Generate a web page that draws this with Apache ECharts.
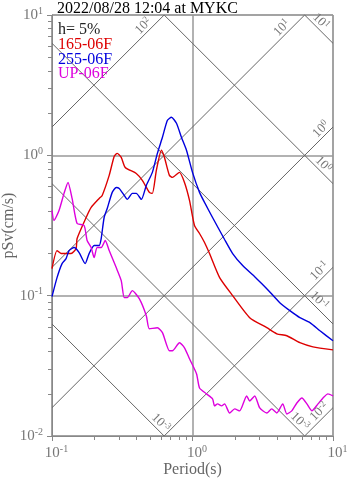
<!DOCTYPE html>
<html><head><meta charset="utf-8">
<script src="https://cdn.jsdelivr.net/npm/echarts@6/dist/echarts.min.js"></script>
<style>html,body{margin:0;padding:0;background:#fff}#c{width:347px;height:478px}</style>
</head><body><div id="c"></div>
<script>
const titleText = '2022/08/28 12:04 at MYKC';
const dampingText = 'h= 5%';
const seriesNames = ['165-06F', '255-06F', 'UP-06F'];
const seriesColors = ['#dd0000', '#0000dd', '#dd00dd'];

// [period (s), pSv (cm/s)]
const ns165 = [[0.1,0.156],[0.1086,0.2095],[0.116,0.1995],[0.1367,0.1995],[0.1484,0.2167],[0.1509,0.2553],[0.175,0.3606],[0.19,0.4254],[0.2167,0.4932],[0.2276,0.5179],[0.2553,0.7197],[0.2773,0.984],[0.2911,1.033],[0.311,0.968],[0.332,0.82],[0.398,0.743],[0.4394,0.6626],[0.493,0.5445],[0.5179,0.5357],[0.553,0.781],[0.601,1.086],[0.631,0.968],[0.685,0.7197],[0.7197,0.6966],[0.808,0.756],[0.877,0.641],[0.952,0.4775],[1.033,0.3162],[1.122,0.2773],[1.218,0.2393],[1.322,0.1995],[1.56,0.1345],[1.931,0.1],[2.553,0.0697],[3.378,0.0591],[3.98,0.0535],[4.69,0.0518],[5.81,0.0462],[7.197,0.0432],[10,0.0411]];
const ew255 = [[0.1,0.0984],[0.1086,0.1345],[0.1179,0.1693],[0.1259,0.1837],[0.1323,0.2095],[0.1436,0.2203],[0.156,0.2028],[0.1722,0.1693],[0.1837,0.1995],[0.1995,0.2277],[0.2167,0.2277],[0.2239,0.2553],[0.235,0.3606],[0.2472,0.4178],[0.2683,0.5445],[0.2864,0.5902],[0.301,0.5808],[0.3268,0.5179],[0.3436,0.4853],[0.3728,0.5357],[0.398,0.5357],[0.4325,0.4853],[0.469,0.6105],[0.5179,0.756],[0.5623,1.033],[0.611,1.345],[0.663,1.778],[0.708,1.866],[0.769,1.693],[0.834,1.345],[0.906,1.086],[1.0,0.756],[1.122,0.5445],[1.218,0.4617],[1.389,0.3606],[1.692,0.2512],[1.931,0.1995],[2.276,0.1638],[2.864,0.1322],[3.378,0.1122],[4.18,0.0891],[4.93,0.0782],[5.81,0.0697],[6.85,0.0642],[8.08,0.0562],[10,0.0477]];
const up = [[0.1,0.4046],[0.1033,0.3434],[0.1122,0.4046],[0.1218,0.5357],[0.13,0.641],[0.139,0.4932],[0.1509,0.3268],[0.1693,0.3162],[0.1778,0.2472],[0.19,0.2203],[0.1995,0.1866],[0.2094,0.2203],[0.2239,0.2203],[0.2393,0.2472],[0.2553,0.2095],[0.2864,0.1585],[0.311,0.128],[0.3268,0.0968],[0.3436,0.0968],[0.3728,0.1086],[0.418,0.0952],[0.469,0.072],[0.493,0.0581],[0.5623,0.0591],[0.611,0.0545],[0.685,0.0405],[0.7197,0.0405],[0.808,0.0462],[0.877,0.0425],[0.952,0.0355],[1.069,0.0277],[1.122,0.022],[1.259,0.01995],[1.389,0.01837],[1.436,0.01638],[1.509,0.01693],[1.61,0.01638],[1.692,0.01693],[1.837,0.01459],[1.995,0.0156],[2.167,0.0151],[2.43,0.0193],[2.553,0.01778],[2.773,0.0193],[3.01,0.01585],[3.378,0.01459],[3.66,0.0156],[3.98,0.01459],[4.39,0.01693],[4.69,0.01436],[5.09,0.0151],[5.53,0.0172],[6.01,0.01866],[6.52,0.01693],[7.08,0.0151],[7.82,0.01693],[8.49,0.01866],[9.2,0.01995],[10,0.0193]];

const xMin = 0.1, xMax = 10, yMin = 0.01, yMax = 10;
const minorTickValuesX = [0.2,0.3,0.4,0.5,0.6,0.7,0.8,0.9,2,3,4,5,6,7,8,9];
const minorTickValuesY = [0.02,0.03,0.04,0.05,0.06,0.07,0.08,0.09,0.2,0.3,0.4,0.5,0.6,0.7,0.8,0.9,2,3,4,5,6,7,8,9];

// tripartite guide lines
const accLevels = [100, 10, 1, 0.1, 0.01];         // pSa (cm/s^2)
const accLabels = ['2', '1', '0', '-1', '-2'];
const accLabelT = [0.484, 4.69, 8.9, 8.7, 8.65];
const dispLevels = [10, 1, 0.1, 0.01, 0.001];      // Sd (cm)
const dispLabels = ['1', '0', '-1', '-3', '-3'];
const dispLabelT = [7.56, 7.89, 7.36, 5.36, 0.548];

const FONT = 'Liberation Serif';
const TW = 2 * Math.PI;
const accSv = (a, T) => a * T / TW;
const dispSv = (d, T) => TW * d / T;

function accSeg(a) {
  const lo = Math.max(xMin, yMin * TW / a), hi = Math.min(xMax, yMax * TW / a);
  return [[lo, accSv(a, lo)], [hi, accSv(a, hi)]];
}
function dispSeg(d) {
  const lo = Math.max(xMin, TW * d / yMax), hi = Math.min(xMax, TW * d / yMin);
  return [[lo, dispSv(d, lo)], [hi, dispSv(d, hi)]];
}

const guideStyle = { color: '#666', width: 1 };
const series = [];
accLevels.forEach(a => series.push({ type: 'line', data: accSeg(a), symbol: 'none', silent: true, lineStyle: guideStyle, z: 1, animation: false }));
dispLevels.forEach(d => series.push({ type: 'line', data: dispSeg(d), symbol: 'none', silent: true, lineStyle: guideStyle, z: 1, animation: false }));
[ns165, ew255, up].forEach((data, i) => series.push({
  type: 'line', name: seriesNames[i], data, symbol: 'none', smooth: 0.2,
  lineStyle: { color: seriesColors[i], width: 1.4 }, z: 3, animation: false
}));

const expRich = {
  b: { fontFamily: FONT, fontSize: 15, color: '#777', lineHeight: 18 },
  s: { fontFamily: FONT, fontSize: 10, color: '#777', lineHeight: 10, verticalAlign: 'top' }
};
const expFmt = v => '{b|10}{s|' + Math.round(Math.log10(v)) + '}';

const baseAxis = (min, max) => ({
  type: 'log', logBase: 10, min, max,
  axisLine: { show: true, lineStyle: { color: '#888', width: 1 } },
  axisTick: { show: true, length: 5, lineStyle: { color: '#888' } },
  splitLine: { show: true, lineStyle: { color: '#999', width: 1.5 } },
  minorTick: { show: false }
});

const chart = echarts.init(document.getElementById('c'), null, { renderer: 'canvas' });
chart.setOption({
  animation: false,
  backgroundColor: '#fff',
  grid: { left: 52, right: 14, top: 15, bottom: 42, show: true, borderColor: '#888', borderWidth: 1, containLabel: false, outerBoundsMode: 'none' },
  title: { text: titleText, left: 52, top: -4, textStyle: { fontFamily: FONT, fontSize: 16, fontWeight: 'normal', color: '#000' } },
  xAxis: [
    Object.assign(baseAxis(xMin, xMax), {
      axisLabel: { formatter: expFmt, rich: expRich, margin: 8, padding: [0, 0, 0, 9] },
      name: 'Period(s)', nameLocation: 'middle', nameGap: 26, nameMoveOverlap: false,
      nameTextStyle: { fontFamily: FONT, fontSize: 16, color: '#666' }
    }),
    { type: 'log', logBase: 10, min: xMin, max: xMax, position: 'bottom',
      axisLine: { show: false }, axisLabel: { show: false }, splitLine: { show: false },
      axisTick: { show: true, length: 4, customValues: minorTickValuesX, lineStyle: { color: '#888' } } }
  ],
  yAxis: [
    Object.assign(baseAxis(yMin, yMax), {
      axisLabel: { formatter: expFmt, rich: expRich, margin: 9 },
      name: 'pSv(cm/s)', nameLocation: 'middle', nameGap: 35, nameRotate: 90, nameMoveOverlap: false,
      nameTextStyle: { fontFamily: FONT, fontSize: 16, color: '#666' }
    }),
    { type: 'log', logBase: 10, min: yMin, max: yMax, position: 'left',
      axisLine: { show: false }, axisLabel: { show: false }, splitLine: { show: false },
      axisTick: { show: true, length: 4, customValues: minorTickValuesY, lineStyle: { color: '#888' } } }
  ],
  series
});

// graphic texts: legend and guide-line labels
const graphics = [];
const legendItems = [[dampingText, '#222']].concat(seriesNames.map((n, i) => [n, seriesColors[i]]));
legendItems.forEach((it, i) => graphics.push({
  type: 'text', x: 58, y: 30 + i * 14.7,
  style: { text: it[0], fill: it[1], font: '16px "' + FONT + '"', align: 'left', verticalAlign: 'middle' }, z: 10
}));
const labRich = {
  b: { fontFamily: FONT, fontSize: 13, fill: '#777', lineHeight: 15 },
  s: { fontFamily: FONT, fontSize: 9, fill: '#777', lineHeight: 9, verticalAlign: 'top' }
};
const OFF = 6.8;
function addLabel(T, sv, exp, up) {
  const p = chart.convertToPixel({ xAxisIndex: 0, yAxisIndex: 0 }, [T, sv]);
  const k = OFF / Math.SQRT2;
  const x = up ? p[0] - k : p[0] + k;
  const y = p[1] - k;
  graphics.push({
    type: 'text', x, y, rotation: up ? Math.PI / 4 : -Math.PI / 4,
    style: { text: '{b|10}{s|' + exp + '}', rich: labRich, align: 'center', verticalAlign: 'middle' }, z: 5
  });
}
accLevels.forEach((a, i) => addLabel(accLabelT[i], accSv(a, accLabelT[i]), accLabels[i], true));
dispLevels.forEach((d, i) => addLabel(dispLabelT[i], dispSv(d, dispLabelT[i]), dispLabels[i], false));
chart.setOption({ graphic: graphics });
</script>
</body></html>
